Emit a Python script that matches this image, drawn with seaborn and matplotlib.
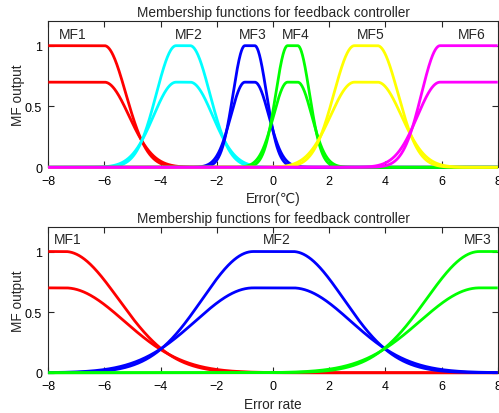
import numpy as np
import matplotlib
matplotlib.use("Agg")
import matplotlib.pyplot as plt
import seaborn as sns

# gauss2mf style membership functions: flat top between left/right, gaussian sides
# upper MF peaks at 1, lower MF peaks at 0.7 with wider sides

# --- error (top panel) ---
err_names = ["MF1", "MF2", "MF3", "MF4", "MF5", "MF6"]
err_colors = ["#ff0000", "#00ffff", "#0000ff", "#00ff00", "#ffff00", "#ff00ff"]
err_left = [-np.inf, -3.45, -1.0, 0.52, 2.9, 5.95]
err_right = [-6.0, -2.95, -0.65, 0.88, 3.72, np.inf]
err_sig_up = [0.76, 0.70, 0.42, 0.42, 0.73, 0.66]
err_sig_lo = [0.87, 0.80, 0.50, 0.50, 0.85, 0.80]
err_label_x = [-7.12, -3.0, -0.71, 0.8, 3.49, 7.08]

# --- error rate (bottom panel) ---
rate_names = ["MF1", "MF2", "MF3"]
rate_colors = ["#ff0000", "#0000ff", "#00ff00"]
rate_left = [-np.inf, -0.7, 7.35]
rate_right = [-7.4, 0.7, np.inf]
rate_sig_up = [1.9, 1.82, 1.89]
rate_sig_lo = [2.11, 2.07, 2.12]
rate_label_x = [-7.3, 0.12, 7.3]

lower_height = 0.7


def gauss2(x, c1, c2, s):
    y = np.ones_like(x)
    m = x < c1
    y[m] = np.exp(-(x[m] - c1) ** 2 / (2 * s ** 2))
    m = x > c2
    y[m] = np.exp(-(x[m] - c2) ** 2 / (2 * s ** 2))
    return y


sns.set_style("ticks")
plt.rcParams["font.family"] = ["Liberation Sans", "DejaVu Sans"]
plt.rcParams["xtick.direction"] = "in"
plt.rcParams["ytick.direction"] = "in"

fig = plt.figure(figsize=(4.99, 4.14), dpi=100)
ax1 = fig.add_axes([0.0968, 0.5935, 0.9006, 0.3525])
ax2 = fig.add_axes([0.0968, 0.0973, 0.9006, 0.3513])

x = np.linspace(-8, 8, 1601)


def draw(ax, names, colors, left, right, sig_up, sig_lo, label_x, xlabel):
    for i in range(len(names)):
        up = gauss2(x, left[i], right[i], sig_up[i])
        lo = lower_height * gauss2(x, left[i], right[i], sig_lo[i])
        for y in (up, lo):
            sns.lineplot(x=x, y=y, ax=ax, color=colors[i], lw=2.0,
                         clip_on=False, solid_capstyle="butt", zorder=3)
        ax.text(label_x[i], 1.1, names[i], ha="center", va="center", fontsize=10)
    ax.set_xlim(-8, 8)
    ax.set_ylim(0, 1.2)
    ax.set_xticks(np.arange(-8, 9, 2))
    ax.set_yticks([0, 0.5, 1])
    ax.set_yticklabels(["0", "0.5", "1"])
    ax.tick_params(top=True, right=True, labelsize=9, length=4, width=0.8,
                   colors="#262626", labelcolor="black")
    ax.tick_params(axis="x", pad=5.5)
    ax.tick_params(axis="y", pad=4.5)
    for s in ax.spines.values():
        s.set_linewidth(0.8)
        s.set_color("#262626")
    ax.set_title("Membership functions for feedback controller", fontsize=9.8, pad=4)
    ax.set_xlabel(xlabel, fontsize=9.8, labelpad=3)
    ax.set_ylabel("MF output", fontsize=9.8, labelpad=0)


draw(ax1, err_names, err_colors, err_left, err_right, err_sig_up, err_sig_lo,
     err_label_x, "Error(\u2103)")
draw(ax2, rate_names, rate_colors, rate_left, rate_right, rate_sig_up, rate_sig_lo,
     rate_label_x, "Error rate")

fig.savefig("out.png", dpi=100)
